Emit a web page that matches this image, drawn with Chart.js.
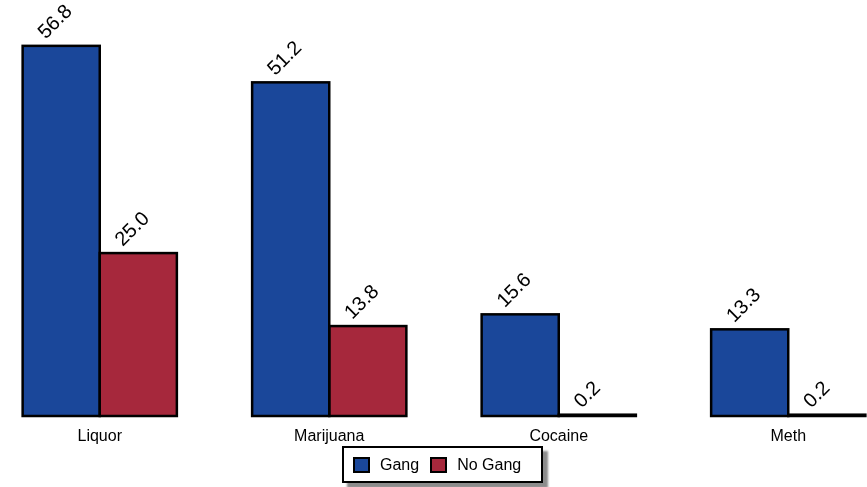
<!DOCTYPE html>
<html lang="en">
<head>
    <meta charset="UTF-8">
    <title>Gang vs No Gang</title>
    <script src="https://cdn.jsdelivr.net/npm/chart.js"></script>
    <style>
        html, body { margin: 0; padding: 0; background: #fff; overflow: hidden; }
        body { width: 867px; height: 487px; position: relative; font-family: "Liberation Sans", Arial, sans-serif; }
        .wrap { position: absolute; left: -15px; top: 0; width: 918px; height: 487px; }
        #legend {
            position: absolute; left: 342px; top: 446px; width: 201px; height: 37px;
            box-sizing: border-box; border: 2px solid #000; background: #fff;
            box-shadow: 5px 5px 2px #8c8c8c;
            display: flex; align-items: center; padding-left: 9px;
            font-size: 16px; color: #000;
        }
        #legend .sw { width: 17px; height: 16px; box-sizing: border-box; border: 2px solid #000; margin-right: 10px; }
        #legend .txt { margin-right: 11px; }
    </style>
</head>
<body>
    <div class="wrap">
        <canvas id="drugChart"></canvas>
    </div>
    <div id="legend"></div>

    <script>
        const categories = ['Liquor', 'Marijuana', 'Cocaine', 'Meth'];
        const gangValues = [56.8, 51.2, 15.6, 13.3];
        const noGangValues = [25.0, 13.8, 0.2, 0.2];

        // black outline around every bar (also visible on the tiny ones)
        const barOutlines = {
            id: 'barOutlines',
            afterDatasetsDraw(chart) {
                const ctx = chart.ctx;
                ctx.save();
                ctx.lineWidth = 2.5;
                ctx.strokeStyle = '#000';
                chart.data.datasets.forEach((ds, i) => {
                    chart.getDatasetMeta(i).data.forEach(bar => {
                        const left = bar.x - bar.width / 2;
                        const top = Math.min(bar.y, bar.base);
                        const h = Math.abs(bar.base - bar.y);
                        ctx.strokeRect(left, top, bar.width, h);
                    });
                });
                ctx.restore();
            }
        };

        // value labels, rotated like the original
        const valueLabels = {
            id: 'valueLabels',
            afterDatasetsDraw(chart) {
                const ctx = chart.ctx;
                ctx.save();
                ctx.font = '20px "Liberation Sans", Arial, sans-serif';
                ctx.fillStyle = '#000';
                ctx.textAlign = 'left';
                ctx.textBaseline = 'alphabetic';
                chart.data.datasets.forEach((ds, i) => {
                    chart.getDatasetMeta(i).data.forEach((bar, j) => {
                        ctx.save();
                        ctx.translate(bar.x - bar.width / 2 + 23, bar.y - 6);
                        ctx.rotate(-Math.PI / 4);
                        ctx.fillText(ds.data[j].toFixed(1), 0, 0);
                        ctx.restore();
                    });
                });
                ctx.restore();
            }
        };

        const chart = new Chart(document.getElementById('drugChart'), {
            type: 'bar',
            data: {
                labels: categories,
                datasets: [{
                    label: 'Gang',
                    data: gangValues,
                    backgroundColor: '#1A479A',
                    borderWidth: 0
                }, {
                    label: 'No Gang',
                    data: noGangValues,
                    backgroundColor: '#A6283C',
                    borderWidth: 0
                }]
            },
            options: {
                responsive: true,
                maintainAspectRatio: false,
                animation: false,
                layout: { padding: { top: 25, left: 0, right: 0, bottom: 0 } },
                datasets: {
                    bar: { categoryPercentage: 0.672, barPercentage: 1 }
                },
                scales: {
                    x: {
                        grid: { display: false, drawTicks: false },
                        border: { display: false },
                        ticks: {
                            padding: 11,
                            color: '#000',
                            font: { family: '"Liberation Sans", Arial, sans-serif', size: 16 }
                        },
                        afterFit(scale) { scale.height = 71; }
                    },
                    y: {
                        display: false,
                        min: 0,
                        max: 60
                    }
                },
                plugins: {
                    legend: { display: false },
                    tooltip: { enabled: false }
                }
            },
            plugins: [barOutlines, valueLabels]
        });

        // html legend built from the datasets
        const legendEl = document.getElementById('legend');
        chart.data.datasets.forEach(ds => {
            const sw = document.createElement('span');
            sw.className = 'sw';
            sw.style.background = ds.backgroundColor;
            const txt = document.createElement('span');
            txt.className = 'txt';
            txt.textContent = ds.label;
            legendEl.appendChild(sw);
            legendEl.appendChild(txt);
        });
    </script>
</body>
</html>
